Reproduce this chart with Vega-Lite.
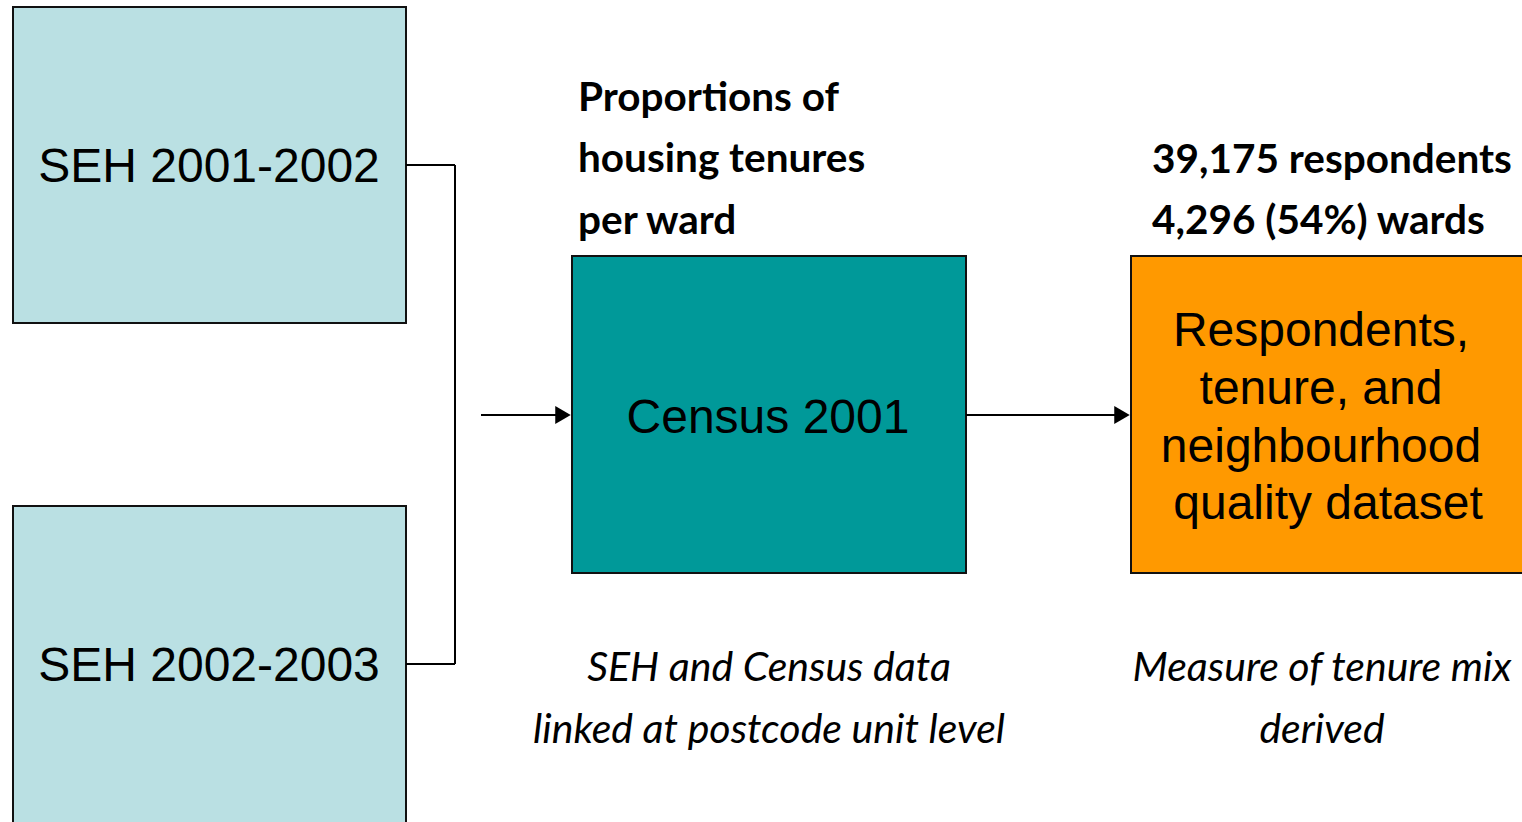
{
  "$schema": "https://vega.github.io/schema/vega-lite/v6.json",
  "width": 1522,
  "height": 822,
  "autosize": "none",
  "padding": 0,
  "background": "white",
  "config": {"view": {"stroke": null}},
  "datasets": {
    "boxes": [
      {"name": "SEH1", "x1": 13, "x2": 406, "y1": 7, "y2": 323, "fill": "#BAE0E3"},
      {"name": "SEH2", "x1": 13, "x2": 406, "y1": 506, "y2": 840, "fill": "#BAE0E3"},
      {"name": "Census", "x1": 572, "x2": 966, "y1": 256, "y2": 573, "fill": "#009999"},
      {"name": "Result", "x1": 1131, "x2": 1540, "y1": 256, "y2": 573, "fill": "#FF9900"}
    ],
    "segments": [
      {"x1": 406, "y1": 165, "x2": 455, "y2": 165},
      {"x1": 455, "y1": 165, "x2": 455, "y2": 664},
      {"x1": 406, "y1": 664, "x2": 455, "y2": 664},
      {"x1": 481, "y1": 415, "x2": 558, "y2": 415},
      {"x1": 966, "y1": 415, "x2": 1118, "y2": 415}
    ],
    "heads": [
      {"x": 563, "y": 415},
      {"x": 1122, "y": 415}
    ],
    "boxText": [
      {"t": "SEH 2001-2002", "x": 209, "y": 168},
      {"t": "SEH 2002-2003", "x": 209, "y": 667},
      {"t": "Census 2001", "x": 768, "y": 419},
      {"t": "Respondents,", "x": 1321, "y": 332},
      {"t": "tenure, and", "x": 1321, "y": 390},
      {"t": "neighbourhood", "x": 1321, "y": 448},
      {"t": "quality dataset", "x": 1328, "y": 505}
    ],
    "boldText": [
      {"t": "Proportions of", "x": 578, "y": 99},
      {"t": "housing tenures", "x": 578, "y": 160},
      {"t": "per ward", "x": 578, "y": 222},
      {"t": "39,175 respondents", "x": 1152, "y": 161},
      {"t": "4,296 (54%) wards", "x": 1152, "y": 222}
    ],
    "italicText": [
      {"t": "SEH and Census data", "x": 769, "y": 669},
      {"t": "linked at postcode unit level", "x": 769, "y": 731},
      {"t": "Measure of tenure mix", "x": 1322, "y": 669},
      {"t": "derived", "x": 1322, "y": 731}
    ]
  },
  "encoding": {},
  "layer": [
    {
      "data": {"name": "boxes"},
      "mark": {"type": "rect", "stroke": "#111111", "strokeWidth": 2, "clip": true},
      "encoding": {
        "x": {"field": "x1", "type": "quantitative", "scale": {"domain": [0, 1522], "nice": false, "zero": false}, "axis": null},
        "x2": {"field": "x2"},
        "y": {"field": "y1", "type": "quantitative", "scale": {"domain": [0, 822], "nice": false, "zero": false, "reverse": true}, "axis": null},
        "y2": {"field": "y2"},
        "fill": {"field": "fill", "type": "nominal", "scale": null, "legend": null}
      }
    },
    {
      "data": {"name": "segments"},
      "mark": {"type": "rule", "color": "#000000", "strokeWidth": 2},
      "encoding": {
        "x": {"field": "x1", "type": "quantitative"},
        "x2": {"field": "x2"},
        "y": {"field": "y1", "type": "quantitative"},
        "y2": {"field": "y2"}
      }
    },
    {
      "data": {"name": "heads"},
      "mark": {"type": "point", "shape": "triangle-right", "filled": true, "color": "#000000", "size": 320, "opacity": 1},
      "encoding": {
        "x": {"field": "x", "type": "quantitative"},
        "y": {"field": "y", "type": "quantitative"}
      }
    },
    {
      "data": {"name": "boxText"},
      "mark": {"type": "text", "font": "Liberation Sans", "fontSize": 48, "color": "#000000", "align": "center", "baseline": "middle"},
      "encoding": {
        "x": {"field": "x", "type": "quantitative"},
        "y": {"field": "y", "type": "quantitative"},
        "text": {"field": "t"}
      }
    },
    {
      "data": {"name": "boldText"},
      "mark": {"type": "text", "font": "Lato", "fontWeight": "bold", "fontSize": 40.5, "color": "#000000", "align": "left", "baseline": "middle"},
      "encoding": {
        "x": {"field": "x", "type": "quantitative"},
        "y": {"field": "y", "type": "quantitative"},
        "text": {"field": "t"}
      }
    },
    {
      "data": {"name": "italicText"},
      "mark": {"type": "text", "font": "Lato", "fontStyle": "italic", "fontSize": 41, "color": "#000000", "align": "center", "baseline": "middle"},
      "encoding": {
        "x": {"field": "x", "type": "quantitative"},
        "y": {"field": "y", "type": "quantitative"},
        "text": {"field": "t"}
      }
    }
  ]
}
